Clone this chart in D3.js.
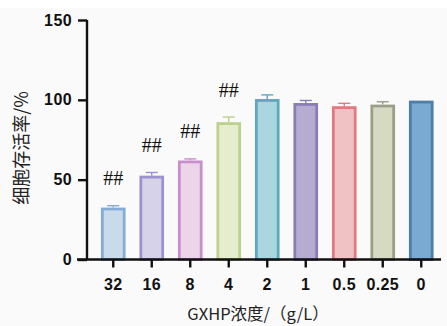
<!DOCTYPE html>
<html><head><meta charset="utf-8">
<script src="https://cdn.jsdelivr.net/npm/d3@7"></script>
<style>body{margin:0;background:#fff}svg{display:block}</style>
</head><body>
<svg id="c" width="447" height="326"></svg>
<script>
const categories = ["32","16","8","4","2","1","0.5","0.25","0"];
const values = [32.5, 52.5, 62, 86, 100.5, 98, 96, 97, 99.5];
const errors = [1.2, 2.0, 1.0, 3.2, 2.6, 1.6, 1.8, 1.8, 0];
const marks = ["##","##","##","##","","","","",""];
const yTicks = [0, 50, 100, 150];
const fills = ["#c9dbeb","#d6d2e8","#ecd5e8","#e6ecce","#a9d6df","#b6acd2","#f1c2c4","#d6dac3","#7aa9d1"];
const strokes = ["#86acd6","#9d92cf","#c98fcb","#bcd18c","#5fa8bf","#8a7db5","#df7b80","#9a9f87","#4d7da8"];

const svg = d3.select("#c");
svg.append("rect").attr("x",0).attr("y",8).attr("width",447).attr("height",318).attr("fill","#fafafa");

const x0 = 87, yBase = 259.5;
const x = d3.scaleBand().domain(categories).range([94, 440.5]).paddingInner(0.36).paddingOuter(0.18);
const y = d3.scaleLinear().domain([0,150]).range([yBase, 20]);

const g = svg.append("g");
categories.forEach((c,i)=>{
  const bx = x(c), bw = x.bandwidth();
  g.append("rect").attr("x",bx+1.4).attr("y",y(values[i])+1.4)
   .attr("width",bw-2.8).attr("height",yBase-y(values[i])-1.4)
   .attr("fill",fills[i]).attr("stroke",strokes[i]).attr("stroke-width",2.8);
  if(errors[i]>0){
    const cx = bx+bw/2, top = y(values[i]+errors[i]);
    g.append("line").attr("x1",cx).attr("x2",cx).attr("y1",y(values[i])).attr("y2",top)
     .attr("stroke",strokes[i]).attr("stroke-width",1.4);
    g.append("line").attr("x1",cx-6).attr("x2",cx+6).attr("y1",top).attr("y2",top)
     .attr("stroke",strokes[i]).attr("stroke-width",1.4);
  }
  if(marks[i]){
    g.append("text").attr("x",bx+bw/2).attr("y",y(values[i]+errors[i])-20.5)
     .attr("text-anchor","middle").attr("font-family","Liberation Serif, serif")
     .attr("font-size",20).attr("fill","#111").text(marks[i]);
  }
});

const tickFont = sel => sel.attr("font-family","Liberation Sans, Arial, sans-serif").attr("font-weight","bold")
  .attr("font-size",16).attr("letter-spacing","0.4px").attr("fill","#111");

const ya = svg.append("g").attr("transform",`translate(${x0},0)`)
  .call(d3.axisLeft(y).tickValues(yTicks).tickSize(9).tickPadding(6));
ya.select(".domain").attr("stroke","#111").attr("stroke-width",2.4).attr("d",`M0,${y(150)}V${yBase}`);
ya.selectAll(".tick line").attr("stroke","#111").attr("stroke-width",2.4);
ya.selectAll(".tick text").call(tickFont);

const xa = svg.append("g").attr("transform",`translate(0,${yBase})`)
  .call(d3.axisBottom(x).tickSize(8).tickPadding(11));
xa.select(".domain").attr("stroke","#111").attr("stroke-width",2.4).attr("d",`M${x0-10},0H441`);
xa.selectAll(".tick line").attr("stroke","#111").attr("stroke-width",2.4);
xa.selectAll(".tick text").call(tickFont);

svg.append("text").attr("transform","translate(28,148) rotate(-90)").attr("text-anchor","middle")
  .attr("font-family","Noto Sans CJK SC, sans-serif").attr("font-size",18).attr("fill","#222").text("细胞存活率/%");
svg.append("text").attr("x",258).attr("y",319.5).attr("text-anchor","middle")
  .attr("font-family","Noto Sans CJK SC, sans-serif").attr("font-size",16.5).attr("fill","#222").text("GXHP浓度/（g/L）");
</script>
</body></html>
